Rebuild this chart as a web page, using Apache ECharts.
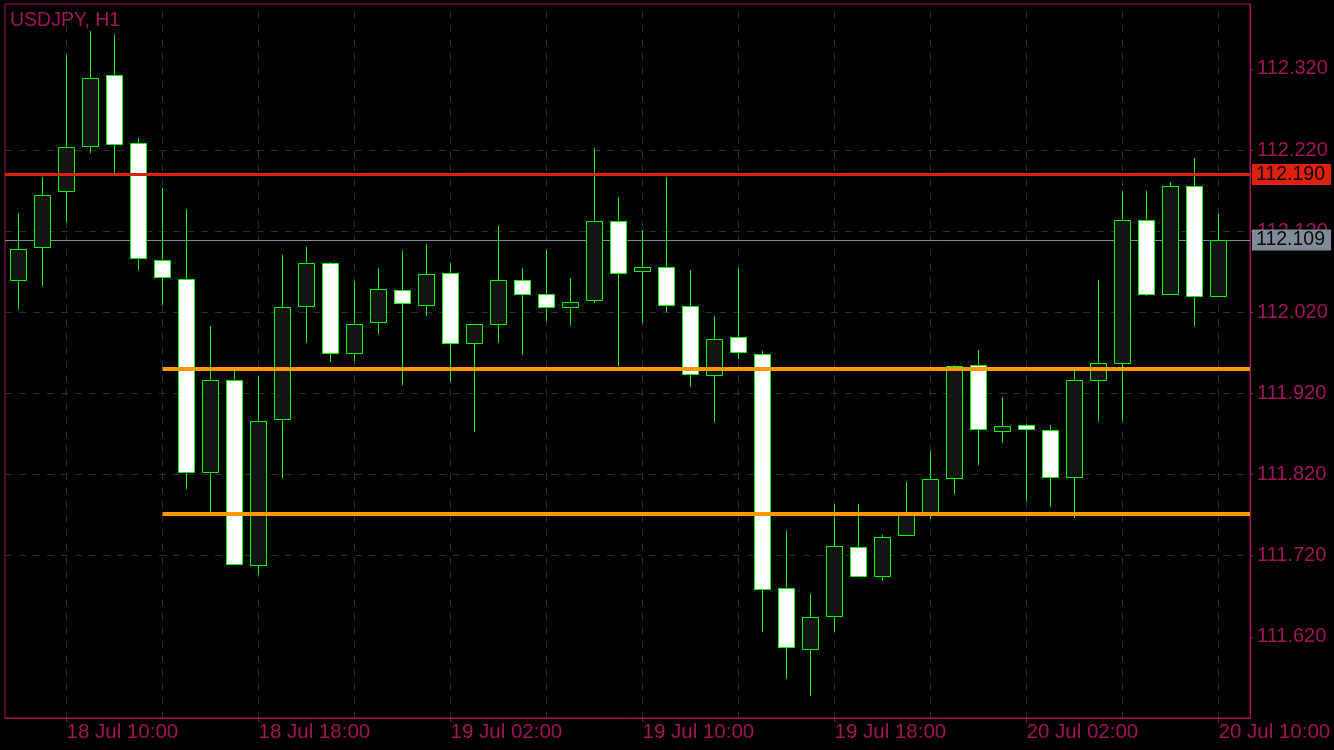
<!DOCTYPE html>
<html>
<head>
<meta charset="utf-8">
<script src="https://cdn.jsdelivr.net/npm/echarts@6/dist/echarts.min.js"></script>
<style>
html,body{margin:0;padding:0;background:#000;}
#chart{width:1334px;height:750px;}
</style>
</head>
<body>
<div id="chart"></div>
<script>
// ---- data ----
const symbolTitle = 'USDJPY, H1';
const times = [
  '18 Jul 08:00','18 Jul 09:00','18 Jul 10:00','18 Jul 11:00','18 Jul 12:00','18 Jul 13:00','18 Jul 14:00','18 Jul 15:00',
  '18 Jul 16:00','18 Jul 17:00','18 Jul 18:00','18 Jul 19:00','18 Jul 20:00','18 Jul 21:00','18 Jul 22:00','18 Jul 23:00',
  '19 Jul 00:00','19 Jul 01:00','19 Jul 02:00','19 Jul 03:00','19 Jul 04:00','19 Jul 05:00','19 Jul 06:00','19 Jul 07:00',
  '19 Jul 08:00','19 Jul 09:00','19 Jul 10:00','19 Jul 11:00','19 Jul 12:00','19 Jul 13:00','19 Jul 14:00','19 Jul 15:00',
  '19 Jul 16:00','19 Jul 17:00','19 Jul 18:00','19 Jul 19:00','19 Jul 20:00','19 Jul 21:00','19 Jul 22:00','19 Jul 23:00',
  '20 Jul 00:00','20 Jul 01:00','20 Jul 02:00','20 Jul 03:00','20 Jul 04:00','20 Jul 05:00','20 Jul 06:00','20 Jul 07:00',
  '20 Jul 08:00','20 Jul 09:00','20 Jul 10:00'
];
const open = [
  112.060,112.101,112.169,112.225,112.312,112.229,112.085,112.061,111.823,111.937,
  111.708,111.889,112.028,112.081,111.970,112.008,112.048,112.029,112.069,111.982,
  112.006,112.060,112.043,112.027,112.035,112.133,112.071,112.076,112.028,111.943,
  111.990,111.969,111.680,111.605,111.646,111.731,111.695,111.745,111.773,111.816,
  111.955,111.874,111.881,111.875,111.817,111.937,111.958,112.134,112.043,112.176,
  112.040
];
const high = [
  112.142,112.187,112.337,112.367,112.362,112.235,112.173,112.147,112.003,111.949,
  111.941,112.091,112.101,112.082,112.058,112.075,112.096,112.104,112.081,112.006,
  112.126,112.075,112.097,112.062,112.223,112.162,112.121,112.187,112.072,112.016,
  112.075,111.972,111.750,111.673,111.784,111.784,111.745,111.811,111.849,111.955,
  111.973,111.916,111.882,111.881,111.948,112.060,112.169,112.169,112.180,112.210,
  112.141
];
const low = [
  112.024,112.052,112.131,112.216,112.192,112.072,112.029,111.802,111.774,111.709,
  111.696,111.816,111.982,111.959,111.960,111.993,111.930,112.015,111.934,111.873,
  111.982,111.967,112.009,112.004,112.032,111.954,112.007,112.021,111.928,111.885,
  111.963,111.626,111.568,111.547,111.626,111.694,111.689,111.744,111.765,111.796,
  111.832,111.859,111.788,111.780,111.766,111.886,111.886,112.040,112.042,112.003,
  112.040
];
const close = [
  112.098,112.165,112.224,112.309,112.228,112.087,112.064,111.823,111.937,111.710,
  111.886,112.026,112.081,111.970,112.006,112.049,112.031,112.067,111.982,112.005,
  112.060,112.043,112.027,112.033,112.133,112.069,112.076,112.029,111.944,111.987,
  111.971,111.679,111.607,111.645,111.732,111.695,111.743,111.773,111.814,111.954,
  111.876,111.880,111.876,111.817,111.937,111.957,112.134,112.042,112.176,112.040,
  112.109
];
const yTicks = [111.62, 111.72, 111.82, 111.92, 112.02, 112.12, 112.22, 112.32];
const xLabelIdx = [2, 10, 18, 26, 34, 42, 50];
const xGridIdx = [2, 6, 10, 14, 18, 22, 26, 30, 34, 38, 42, 46, 50];
const resistanceLevel = 112.190;
const supportLevels = [111.951, 111.772];
const supportStartIdx = 6;
const lastPrice = 112.109;

// ---- styles ----
const CRIMSON = '#a3125a';
const GRIDC = '#2c2c2c';
const FONT = 'Liberation Sans';
const X_MIN = -0.5625, X_MAX = 51.3125;

const candleData = open.map((o, i) => [i, o, close[i], low[i], high[i]]);

function renderCandle(params, api) {
  const i = api.value(0);
  const o = api.value(1), c = api.value(2), l = api.value(3), h = api.value(4);
  const pO = api.coord([i, o]);
  const pC = api.coord([i, c]);
  const pL = api.coord([i, l]);
  const pH = api.coord([i, h]);
  const cx = Math.round(pO[0] - 0.5) + 0.5;
  const top = Math.round(Math.min(pO[1], pC[1])) + 0.5;
  const bot = Math.round(Math.max(pO[1], pC[1])) + 0.5;
  const bull = c >= o;
  return {
    type: 'group',
    children: [
      {
        type: 'line',
        shape: { x1: cx, y1: Math.round(pH[1]), x2: cx, y2: Math.round(pL[1]) },
        style: { stroke: '#00ff00', lineWidth: 1 }
      },
      {
        type: 'rect',
        shape: { x: cx - 8, y: top, width: 16, height: Math.max(bot - top, 2) },
        style: { fill: bull ? '#141414' : '#ffffff', stroke: '#00ff00', lineWidth: 1 }
      }
    ]
  };
}

const chart = echarts.init(document.getElementById('chart'), null, { renderer: 'canvas' });

chart.setOption({
  animation: false,
  backgroundColor: '#000',
  title: {
    text: symbolTitle,
    left: 5, top: 6,
    textStyle: { color: CRIMSON, fontFamily: FONT, fontSize: 19.5, fontWeight: 'normal' }
  },
  grid: {
    left: 5, right: 84, top: 4, bottom: 32,
    show: true, backgroundColor: '#000', borderColor: CRIMSON, borderWidth: 1
  },
  xAxis: {
    type: 'value',
    min: X_MIN, max: X_MAX,
    axisLine: { show: true, onZero: false, lineStyle: { color: CRIMSON, width: 1 } },
    axisTick: { show: true, length: 4, customValues: xLabelIdx, lineStyle: { color: CRIMSON } },
    axisLabel: {
      customValues: xLabelIdx,
      formatter: v => times[Math.round(v)] || '',
      color: CRIMSON, fontFamily: FONT, fontSize: 20.5, align: 'left', margin: 4
    },
    splitLine: { show: false }
  },
  yAxis: {
    type: 'value',
    position: 'right',
    min: 111.52, max: 112.40, interval: 0.1,
    axisLine: { show: true, onZero: false, lineStyle: { color: CRIMSON, width: 1 } },
    axisTick: { show: true, length: 3, customValues: yTicks, lineStyle: { color: CRIMSON } },
    axisLabel: {
      customValues: yTicks,
      formatter: v => v.toFixed(3),
      color: CRIMSON, fontFamily: FONT, fontSize: 20, margin: 7, padding: [3, 0, 0, 0]
    },
    splitLine: {
      show: true, showMinLine: false, showMaxLine: false,
      lineStyle: { color: GRIDC, type: [7, 7], width: 1 }
    }
  },
  series: [
    {
      type: 'line',
      data: [],
      z: 1,
      silent: true,
      markLine: {
        z: 1,
        silent: true,
        symbol: ['none', 'none'],
        label: { show: false },
        lineStyle: { color: GRIDC, type: [7, 7], width: 1 },
        data: xGridIdx.map(v => ({ xAxis: v }))
      }
    },
    {
      type: 'line',
      data: [],
      z: 2,
      silent: true,
      markLine: {
        z: 2,
        silent: true,
        precision: 3,
        symbol: ['none', 'none'],
        lineStyle: { color: '#7f8b98', type: 'solid', width: 1 },
        label: {
          show: true, position: 'end', distance: 2,
          formatter: p => Number(p.value).toFixed(3),
          color: '#0a0a0a', backgroundColor: '#7f8b98',
          fontFamily: FONT, fontSize: 19.5, lineHeight: 19, padding: [2, 6, 0, 4]
        },
        data: [{ yAxis: lastPrice }]
      }
    },
    {
      type: 'custom',
      z: 3,
      renderItem: renderCandle,
      encode: { x: 0, y: [1, 2, 3, 4] },
      data: candleData
    },
    {
      type: 'line',
      data: [],
      z: 5,
      silent: true,
      markLine: {
        z: 5,
        silent: true,
        precision: 3,
        symbol: ['none', 'none'],
        data: [
          {
            yAxis: resistanceLevel,
            lineStyle: { color: '#e0200f', type: 'solid', width: 3 },
            label: {
              show: true, position: 'end', distance: 2,
              formatter: p => Number(p.value).toFixed(3),
              color: '#0a0a0a', backgroundColor: '#e0200f',
              fontFamily: FONT, fontSize: 19.5, lineHeight: 19, padding: [2, 6, 0, 4]
            }
          }
        ].concat(supportLevels.map(v => [
          { coord: [supportStartIdx, v], lineStyle: { color: '#ff9900', type: 'solid', width: 4 }, label: { show: false } },
          { coord: [X_MAX, v] }
        ]))
      }
    }
  ]
});
</script>
</body>
</html>
